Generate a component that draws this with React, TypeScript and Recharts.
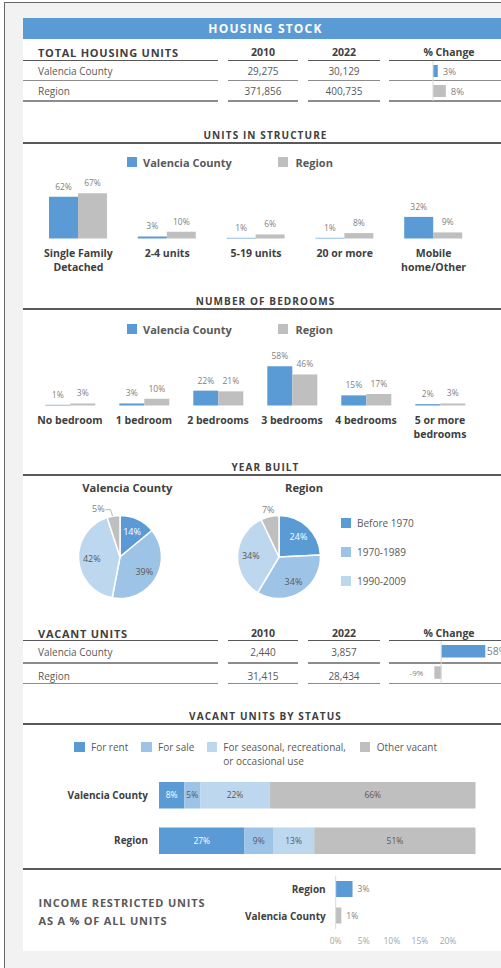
import React from 'react'
import { BarChart, Bar, XAxis, YAxis, Cell, LabelList, PieChart, Pie, ReferenceLine } from 'recharts'

const BLUE = '#5b9bd5'
const MID_BLUE = '#9dc3e6'
const LIGHT_BLUE = '#bdd7ee'
const GRAY = '#bfbfbf'
const DARK = '#404040'
const TEXT = '#595959'
const SOFT = '#7f7f7f'

// Total housing units
const stockRows = ['Valencia County', 'Region']
const stock2010 = [29275, 371856]
const stock2022 = [30129, 400735]
const stockChange = [3, 8]

// Units in structure (% of units)
const structureLabels = ['Single Family\nDetached', '2-4 units', '5-19 units', '20 or more', 'Mobile\nhome/Other']
const structureCounty = [62, 3, 1, 1, 32]
const structureRegion = [67, 10, 6, 8, 9]

// Number of bedrooms (% of units)
const bedroomLabels = ['No bedroom', '1 bedroom', '2 bedrooms', '3 bedrooms', '4 bedrooms', '5 or more\nbedrooms']
const bedroomCounty = [1, 3, 22, 58, 15, 2]
const bedroomRegion = [3, 10, 21, 46, 17, 3]

// Year built (% of units)
const yearLabels = ['Before 1970', '1970-1989', '1990-2009', '2010 or later']
const yearCounty = [14, 39, 42, 5]
const yearRegion = [24, 34, 34, 7]

// Vacant units
const vacantRows = ['Valencia County', 'Region']
const vacant2010 = [2440, 31415]
const vacant2022 = [3857, 28434]
const vacantChange = [58, -9]

// Vacant units by status (% of vacant units)
const statusLabels = ['For rent', 'For sale', 'For seasonal, recreational,\nor occasional use', 'Other vacant']
const statusCounty = [8, 5, 22, 66]
const statusRegion = [27, 9, 13, 51]

// Income restricted units as % of all units
const incomeRows = ['Region', 'Valencia County']
const incomeShare = [3, 1]
const incomeTicks = [0, 5, 10, 15, 20]

const YEAR_COLORS = [BLUE, MID_BLUE, LIGHT_BLUE, GRAY]
const STATUS_COLORS = [BLUE, MID_BLUE, LIGHT_BLUE, GRAY]
const STATUS_KEYS = ['rent', 'sale', 'seasonal', 'other']

const PANEL_LEFT = 23
const PANEL_WIDTH = 485
const MID_X = PANEL_LEFT + PANEL_WIDTH / 2

const pct = (v: any) => `${v}%`

type Anchor = 'start' | 'middle' | 'end'

function Caption({ x, y, text, anchor = 'start', size = 10, bold = false, color = TEXT, spacing = 0 }: {
  x: number; y: number; text: string; anchor?: Anchor; size?: number; bold?: boolean; color?: string; spacing?: number
}) {
  const shift = anchor === 'middle' ? '-50%' : anchor === 'end' ? '-100%' : '0'
  return (
    <div
      style={{
        position: 'absolute', left: x, top: y, transform: `translate(${shift}, -50%)`,
        fontSize: size, fontWeight: bold ? 700 : 400, color, lineHeight: 1,
        whiteSpace: 'nowrap', letterSpacing: spacing,
      }}
    >
      {text}
    </div>
  )
}

function Rule({ x, y, w, color = TEXT, thick = 1.2 }: { x: number; y: number; w: number; color?: string; thick?: number }) {
  return <div style={{ position: 'absolute', left: x, top: y - thick / 2, width: w, height: thick, background: color }} />
}

function Swatch({ x, y, color, size = 10 }: { x: number; y: number; color: string; size?: number }) {
  return <div style={{ position: 'absolute', left: x, top: y - size / 2, width: size, height: size, background: color }} />
}

function SectionTitle({ y, lineY, text }: { y: number; lineY: number; text: string }) {
  return (
    <>
      <Caption x={MID_X} y={y} text={text} anchor="middle" bold size={10} color={DARK} spacing={1.1} />
      <Rule x={PANEL_LEFT} y={lineY} w={PANEL_WIDTH} />
    </>
  )
}

const COLS = [
  { x: 23, w: 195 },
  { x: 228, w: 70 },
  { x: 308, w: 72 },
  { x: 389, w: 119 },
]

function TableRules({ y, color }: { y: number; color: string }) {
  return (
    <>
      {COLS.map((c, i) => (
        <Rule key={i} x={c.x} y={y} w={c.w} color={color} thick={1.5} />
      ))}
    </>
  )
}

function StatTable({ title, headY, headLineY, rowYs, rowLineYs, names, first, second }: {
  title: string; headY: number; headLineY: number; rowYs: number[]; rowLineYs: number[]
  names: string[]; first: number[]; second: number[]
}) {
  return (
    <>
      <Caption x={38} y={headY} text={title} bold size={11} color={DARK} spacing={0.75} />
      <Caption x={263} y={headY} text="2010" anchor="middle" bold size={10.5} color={DARK} />
      <Caption x={344} y={headY} text="2022" anchor="middle" bold size={10.5} color={DARK} />
      <Caption x={449} y={headY} text="% Change" anchor="middle" bold size={10.5} color={DARK} />
      <TableRules y={headLineY} color="#595959" />
      {names.map((name, i) => (
        <React.Fragment key={name}>
          <Caption x={38} y={rowYs[i]} text={name} />
          <Caption x={263} y={rowYs[i]} text={first[i].toLocaleString('en-US')} anchor="middle" />
          <Caption x={344} y={rowYs[i]} text={second[i].toLocaleString('en-US')} anchor="middle" />
          <TableRules y={rowLineYs[i]} color="#8c8c8c" />
        </React.Fragment>
      ))}
    </>
  )
}

// value label beside a horizontal bar, on the left for negative values
function makeSideLabel(gapPos: number, gapNeg: number, sizePos: number, sizeNeg: number) {
  return (p: any) => {
    const left = Math.min(p.x, p.x + p.width)
    const right = Math.max(p.x, p.x + p.width)
    const neg = Number(p.value) < 0
    return (
      <text
        x={neg ? left - gapNeg : right + gapPos}
        y={p.y + p.height / 2}
        textAnchor={neg ? 'end' : 'start'}
        dominantBaseline="central"
        fill={SOFT}
        fontSize={neg ? sizeNeg : sizePos}
      >
        {p.value}%
      </text>
    )
  }
}

function ChangeBars({ top, height, left, width, marginLeft, domain, names, values, barSize, gapPos, gapNeg, sizePos, sizeNeg }: {
  top: number; height: number; left: number; width: number; marginLeft: number; domain: [number, number]
  names: string[]; values: number[]; barSize: number; gapPos: number; gapNeg: number; sizePos: number; sizeNeg: number
}) {
  const data = names.map((name, i) => ({ name, value: values[i] }))
  return (
    <div style={{ position: 'absolute', left, top }}>
      <BarChart layout="vertical" width={width} height={height} data={data} margin={{ top: 0, right: 0, bottom: 0, left: marginLeft }}>
        <XAxis type="number" hide domain={domain} />
        <YAxis type="category" dataKey="name" hide />
        <ReferenceLine x={0} stroke="#d9d9d9" strokeWidth={1} />
        <Bar dataKey="value" barSize={barSize} isAnimationActive={false}>
          {data.map((d, i) => (
            <Cell key={d.name} fill={i === 0 ? BLUE : GRAY} />
          ))}
          <LabelList dataKey="value" content={makeSideLabel(gapPos, gapNeg, sizePos, sizeNeg)} />
        </Bar>
      </BarChart>
    </div>
  )
}

function CategoryTick({ x, y, payload }: any) {
  const lines = String(payload.value).split('\n')
  return (
    <text x={x} y={y} textAnchor="middle" fill={DARK} fontSize={10.5} fontWeight={700}>
      {lines.map((line, i) => (
        <tspan key={i} x={x} dy={i === 0 ? 18.6 : 14}>
          {line}
        </tspan>
      ))}
    </text>
  )
}

// single-line row label for horizontal bar charts
function RowTick({ x, y, payload }: any) {
  return (
    <text x={x} y={y} textAnchor="end" dominantBaseline="central" fill={DARK} fontSize={10} fontWeight={700}>
      {payload.value}
    </text>
  )
}

function PairLegend({ y }: { y: number }) {
  return (
    <>
      <Swatch x={127} y={y} color={BLUE} />
      <Caption x={143} y={y} text="Valencia County" bold size={11} />
      <Swatch x={278} y={y} color={GRAY} />
      <Caption x={295.5} y={y} text="Region" bold size={11} />
    </>
  )
}

function PairBars({ left, top, labels, county, region, gap }: {
  left: number; top: number; labels: string[]; county: number[]; region: number[]; gap: number
}) {
  const data = labels.map((name, i) => ({ name, county: county[i], region: region[i] }))
  return (
    <div style={{ position: 'absolute', left, top }}>
      <BarChart width={444} height={114} data={data} margin={{ top: 6, right: 0, bottom: 0, left: 0 }} barCategoryGap={gap} barGap={0}>
        <XAxis dataKey="name" axisLine={false} tickLine={false} tickSize={0} tickMargin={0} height={40.5} interval={0} tick={<CategoryTick />} />
        <YAxis hide domain={[0, 100]} />
        <Bar dataKey="county" fill={BLUE} isAnimationActive={false}>
          <LabelList dataKey="county" position="top" offset={7} formatter={pct} fill={SOFT} fontSize={8.5} />
        </Bar>
        <Bar dataKey="region" fill={GRAY} isAnimationActive={false}>
          <LabelList dataKey="region" position="top" offset={7} formatter={pct} fill={SOFT} fontSize={8.5} />
        </Bar>
      </BarChart>
    </div>
  )
}

const RADIAN = Math.PI / 180

function sliceLabel(p: any, shiftX: number) {
  const { cx, cy, midAngle, outerRadius, percent, index, value } = p
  const cos = Math.cos(-midAngle * RADIAN)
  const sin = Math.sin(-midAngle * RADIAN)
  if (percent >= 0.1) {
    const r = outerRadius * 0.68
    return (
      <text x={cx + r * cos} y={cy + r * sin} textAnchor="middle" dominantBaseline="central" fill={index === 0 ? '#fff' : TEXT} fontSize={9}>
        {value}%
      </text>
    )
  }
  // small slice: label sits outside the pie
  const r = outerRadius + 7.5
  const ax = cx + r * cos
  const ay = cy + r * sin
  const tx = ax + shiftX
  const ex = cx + outerRadius * cos
  const ey = cy + outerRadius * sin
  return (
    <g>
      {shiftX !== 0 && (
        <polyline
          points={`${tx + 7},${ay + 1} ${ex - 3},${ay + 1} ${ex - 1},${ey}`}
          fill="none"
          stroke="#a6a6a6"
          strokeWidth={0.8}
        />
      )}
      <text x={tx} y={ay} textAnchor="middle" dominantBaseline="central" fill={SOFT} fontSize={9}>
        {value}%
      </text>
    </g>
  )
}

function YearPie({ left, values, shiftX }: { left: number; values: number[]; shiftX: number }) {
  const data = yearLabels.map((name, i) => ({ name, value: values[i] }))
  return (
    <div style={{ position: 'absolute', left, top: 491.5 }}>
      <PieChart width={120} height={120}>
        <Pie
          data={data}
          dataKey="value"
          cx={60}
          cy={60}
          outerRadius={41.5}
          startAngle={90}
          endAngle={-270}
          stroke="#fff"
          strokeWidth={1.5}
          labelLine={false}
          label={(p: any) => sliceLabel(p, shiftX)}
          isAnimationActive={false}
        >
          {data.map((d, i) => (
            <Cell key={d.name} fill={YEAR_COLORS[i]} />
          ))}
        </Pie>
      </PieChart>
    </div>
  )
}

function StatusBars() {
  const rows: [string, number[]][] = [['Valencia County', statusCounty], ['Region', statusRegion]]
  const data = rows.map(([name, vals]) => {
    const row: Record<string, any> = { name }
    STATUS_KEYS.forEach((k, i) => (row[k] = vals[i]))
    return row
  })
  return (
    <div style={{ position: 'absolute', left: 59, top: 771.75 }}>
      <BarChart layout="vertical" width={426.7} height={91} data={data} margin={{ top: 0, right: 10, bottom: 0, left: 0 }}>
        <XAxis type="number" hide domain={[0, 100]} allowDataOverflow />
        <YAxis
          type="category"
          dataKey="name"
          width={100}
          axisLine={false}
          tickLine={false}
          tickSize={0}
          tickMargin={11}
          tick={<RowTick />}
        />
        {STATUS_KEYS.map((k, i) => (
          <Bar key={k} dataKey={k} stackId="status" fill={STATUS_COLORS[i]} barSize={26.5} isAnimationActive={false}>
            <LabelList dataKey={k} position="center" formatter={pct} fill={i === 0 ? '#fff' : TEXT} fontSize={8.5} />
          </Bar>
        ))}
      </BarChart>
    </div>
  )
}

function IncomeBars() {
  const data = incomeRows.map((name, i) => ({ name, value: incomeShare[i] }))
  return (
    <div style={{ position: 'absolute', left: 240, top: 876 }}>
      <BarChart layout="vertical" width={218} height={73} data={data} margin={{ top: 0, right: 10, bottom: 0, left: 0 }}>
        <XAxis
          type="number"
          domain={[0, 20]}
          ticks={incomeTicks}
          tickFormatter={pct}
          axisLine={false}
          tickLine={false}
          tickSize={0}
          tickMargin={9}
          height={20}
          tick={{ fill: '#a6a6a6', fontSize: 8.5 }}
        />
        <YAxis
          type="category"
          dataKey="name"
          width={95.7}
          axisLine={{ stroke: '#d9d9d9' }}
          tickLine={false}
          tickSize={0}
          tickMargin={10}
          tick={<RowTick />}
        />
        <Bar dataKey="value" barSize={16} isAnimationActive={false}>
          {data.map((d, i) => (
            <Cell key={d.name} fill={i === 0 ? BLUE : GRAY} />
          ))}
          <LabelList dataKey="value" position="right" offset={5} formatter={pct} fill={SOFT} fontSize={8.5} />
        </Bar>
      </BarChart>
    </div>
  )
}

export default function App() {
  const statusLegend = [
    { sx: 74, tx: 91 },
    { sx: 141, tx: 158 },
    { sx: 206.5, tx: 223.3 },
    { sx: 359.5, tx: 376.7 },
  ]
  return (
    <div
      style={{
        position: 'absolute', left: 0, top: 0, width: 501, height: 968, overflow: 'hidden',
        background: '#fff', fontFamily: "'Open Sans', sans-serif",
      }}
    >
      <div
        style={{
          position: 'absolute', left: 4, top: 1.5, width: 540, height: 1000, background: '#f2f2f2',
          borderTop: '1.5px solid #666', borderLeft: '1.5px solid #666',
        }}
      />
      <div style={{ position: 'absolute', left: PANEL_LEFT, top: 18, width: PANEL_WIDTH, height: 933, background: '#fff' }} />

      {/* housing stock */}
      <div style={{ position: 'absolute', left: PANEL_LEFT, top: 18, width: PANEL_WIDTH, height: 21, background: BLUE }} />
      <Caption x={MID_X} y={28.5} text="HOUSING STOCK" anchor="middle" bold size={12} color="#fff" spacing={1.2} />
      <StatTable
        title="TOTAL HOUSING UNITS"
        headY={51.7}
        headLineY={60.5}
        rowYs={[71, 91]}
        rowLineYs={[80.5, 101]}
        names={stockRows}
        first={stock2010}
        second={stock2022}
      />
      <ChangeBars
        top={61}
        height={40}
        left={389}
        width={112}
        marginLeft={44}
        domain={[0, 42.5]}
        names={stockRows}
        values={stockChange}
        barSize={12}
        gapPos={5}
        gapNeg={5}
        sizePos={9.5}
        sizeNeg={9.5}
      />

      {/* units in structure */}
      <SectionTitle y={134.5} lineY={143} text="UNITS IN STRUCTURE" />
      <PairLegend y={162.2} />
      <PairBars left={33.6} top={165} labels={structureLabels} county={structureCounty} region={structureRegion} gap={15} />

      {/* bedrooms */}
      <SectionTitle y={301.3} lineY={309} text="NUMBER OF BEDROOMS" />
      <PairLegend y={329.3} />
      <PairBars left={33.3} top={331.5} labels={bedroomLabels} county={bedroomCounty} region={bedroomRegion} gap={12.3} />

      {/* year built */}
      <SectionTitle y={467} lineY={475} text="YEAR BUILT" />
      <Caption x={127.3} y={488.3} text="Valencia County" anchor="middle" bold size={11.2} color={DARK} />
      <Caption x={304} y={488.3} text="Region" anchor="middle" bold size={11.2} color={DARK} />
      <YearPie left={54.5} values={yearCounty} shiftX={-14} />
      <YearPie left={214} values={yearRegion} shiftX={0} />
      {yearLabels.slice(0, 3).map((name, i) => (
        <React.Fragment key={name}>
          <Swatch x={341} y={522.5 + i * 29.2} color={YEAR_COLORS[i]} />
          <Caption x={357} y={522.5 + i * 29.2} text={name} />
        </React.Fragment>
      ))}

      {/* vacant units */}
      <StatTable
        title="VACANT UNITS"
        headY={633}
        headLineY={640.7}
        rowYs={[652, 675.5]}
        rowLineYs={[663, 683.3]}
        names={vacantRows}
        first={vacant2010}
        second={vacant2022}
      />
      <ChangeBars
        top={641}
        height={42.6}
        left={389}
        width={128.2}
        marginLeft={37}
        domain={[-20, 100]}
        names={vacantRows}
        values={vacantChange}
        barSize={12.5}
        gapPos={1.5}
        gapNeg={11}
        sizePos={10.5}
        sizeNeg={8}
      />

      {/* vacant units by status */}
      <SectionTitle y={716} lineY={724} text="VACANT UNITS BY STATUS" />
      {statusLabels.map((name, i) => {
        const lines = name.split('\n')
        return (
          <React.Fragment key={name}>
            <Swatch x={statusLegend[i].sx} y={747.2} color={STATUS_COLORS[i]} size={10.5} />
            {lines.map((line, j) => (
              <Caption key={line} x={statusLegend[i].tx} y={747.2 + j * 14} text={line} />
            ))}
          </React.Fragment>
        )
      })}
      <StatusBars />
      <Rule x={PANEL_LEFT} y={869} w={PANEL_WIDTH} />

      {/* income restricted units */}
      <Caption x={38.5} y={902.3} text="INCOME RESTRICTED UNITS" bold size={11} color={TEXT} spacing={0.8} />
      <Caption x={38.5} y={919.7} text="AS A % OF ALL UNITS" bold size={11} color={TEXT} spacing={0.8} />
      <IncomeBars />
    </div>
  )
}
